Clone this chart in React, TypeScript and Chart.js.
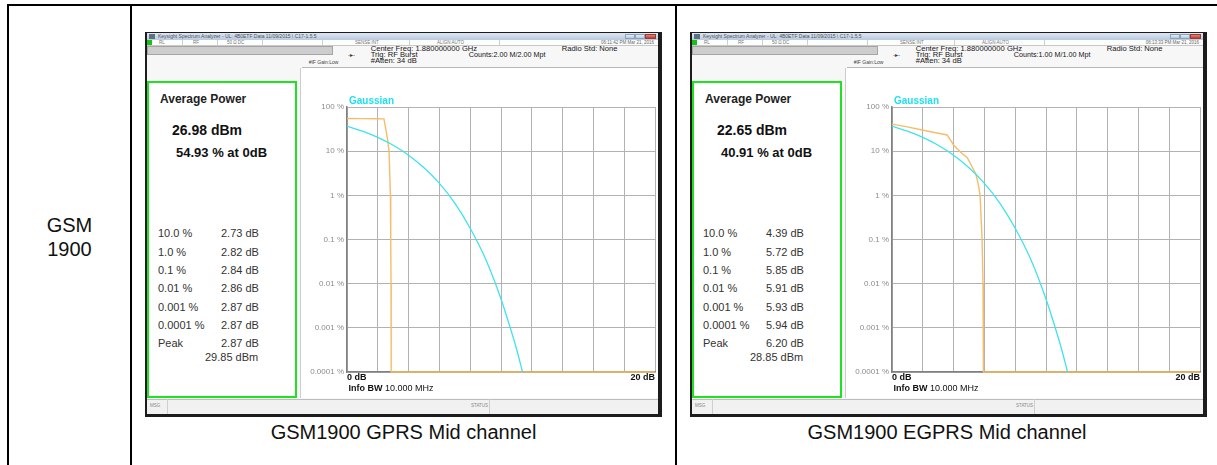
import React, { useEffect, useRef } from 'react';
import { Chart, registerables } from 'chart.js';
Chart.register(...registerables);

const FONT = '"Liberation Sans", Arial, Helvetica, sans-serif';

// axis ticks
const yTickValues = [100, 10, 1, 0.1, 0.01, 0.001, 0.0001];
const yTickLabels = ['100 %', '10 %', '1 %', '0.1 %', '0.01 %', '0.001 %', '0.0001 %'];
const xTickLabels = ['0 dB', '20 dB'];

// CCDF probability levels in the statistics panel
const ccdfLevels = ['10.0 %', '1.0 %', '0.1 %', '0.01 %', '0.001 %', '0.0001 %'];

// Gaussian reference trace
const gaussianDb = [0, 1, 2, 3, 4, 5, 6, 7, 8, 9, 10, 10.5, 11, 11.4];
const gaussianPct = [36.8, 28.4, 20.5, 13.6, 8.1, 4.2, 1.87, 0.67, 0.18, 0.036, 0.0045, 0.0013, 0.00034, 0.0001];

// GPRS measured trace
const gprsDb = [0, 1, 2, 2.4, 2.64, 2.73, 2.82, 2.84, 2.86, 2.87, 2.87, 20];
const gprsPct = [54.93, 54.6, 54.3, 54, 18, 10, 1, 0.1, 0.01, 0.001, 0.0001, 0.0001];

// EGPRS measured trace
const egprsDb = [0, 1, 1.8, 3, 3.58, 4.0, 4.39, 4.9, 5.45, 5.6, 5.72, 5.85, 5.91, 5.93, 5.94, 20];
const egprsPct = [40.91, 35.4, 31, 25.5, 23.3, 13.8, 10, 7, 3, 1.8, 1, 0.1, 0.01, 0.001, 0.0001, 0.0001];

// statistics values
const gprsStats = ['2.73 dB', '2.82 dB', '2.84 dB', '2.86 dB', '2.87 dB', '2.87 dB'];
const egprsStats = ['4.39 dB', '5.72 dB', '5.85 dB', '5.91 dB', '5.93 dB', '5.94 dB'];

function T(props: any) {
  const { x, cy, size = 10, bold = false, color = '#222', children, right, lh } = props;
  const L = lh || Math.round(size * 1.25);
  const st: any = {
    position: 'absolute',
    top: cy - L / 2,
    fontSize: size,
    lineHeight: L + 'px',
    fontWeight: bold ? 'bold' : 'normal',
    color,
    whiteSpace: 'nowrap',
    fontFamily: FONT,
  };
  if (right !== undefined) st.right = right; else st.left = x;
  return <div style={st}>{children}</div>;
}

function Box(props: any) {
  const { x, y, w, h, style } = props;
  return <div style={{ position: 'absolute', left: x, top: y, width: w, height: h, boxSizing: 'border-box', ...style }}>{props.children}</div>;
}

function CcdfChart(props: any) {
  const { db, pct } = props;
  const ref = useRef<HTMLCanvasElement | null>(null);
  useEffect(() => {
    if (!ref.current) return;
    const toPts = (xs: number[], ys: number[]) => xs.map((x, i) => ({ x, y: ys[i] }));
    const chart = new Chart(ref.current, {
      type: 'scatter',
      data: {
        datasets: [
          {
            data: toPts(gaussianDb, gaussianPct),
            borderColor: '#3fe3ea',
            borderWidth: 1.3,
            showLine: true,
            pointRadius: 0,
            cubicInterpolationMode: 'monotone',
          } as any,
          {
            data: toPts(db, pct),
            borderColor: '#f5bd6a',
            borderWidth: 1.4,
            showLine: true,
            pointRadius: 0,
            tension: 0,
            clip: 3,
          } as any,
        ],
      },
      options: {
        animation: false,
        responsive: false,
        maintainAspectRatio: false,
        layout: { padding: { top: 39, right: 4, left: 0, bottom: 0 } },
        plugins: { legend: { display: false }, tooltip: { enabled: false }, title: { display: false } },
        scales: {
          x: {
            type: 'linear',
            min: 0,
            max: 20,
            afterFit: (s: any) => { s.height = 26; },
            ticks: {
              stepSize: 2,
              autoSkip: false,
              maxRotation: 0,
              align: 'inner',
              padding: 0,
              color: '#111',
              font: { size: 9, weight: 'bold', family: FONT },
              callback: (v: any) => (v === 0 ? xTickLabels[0] : v === 20 ? xTickLabels[1] : ''),
            },
            grid: { color: '#b2b2b2', lineWidth: 1, drawTicks: false },
            border: { color: '#808080', width: 1.5 },
          },
          y: {
            type: 'logarithmic',
            min: 0.0001,
            max: 100,
            afterFit: (s: any) => { s.width = 46; },
            afterBuildTicks: (s: any) => { s.ticks = yTickValues.map((v) => ({ value: v })); },
            ticks: {
              autoSkip: false,
              padding: 3,
              color: '#8c8c8c',
              font: { size: 8, family: FONT },
              callback: (v: any) => {
                const i = yTickValues.indexOf(v);
                return i >= 0 ? yTickLabels[i] : '';
              },
            },
            grid: { color: '#b2b2b2', lineWidth: 1, drawTicks: false },
            border: { color: '#808080', width: 1.5 },
          },
        },
      } as any,
    });
    return () => chart.destroy();
  }, []);
  return <canvas ref={ref} width={358} height={330} style={{ position: 'absolute', left: 0, top: 0, width: 358, height: 330 }} />;
}

function Screen(props: any) {
  const { ox, time, counts, avg, pctAt0, stats, peakDb, peakDbm, db, pct } = props;
  // inner coordinates: page coordinate (s1) minus (147, 33)
  const X = (x: number) => x - 147;
  const Y = (y: number) => y - 33;
  const rowY = [233, 252, 270, 288, 307, 325, 343];
  const seps = [35, 70, 115, 175, 262, 352];
  return (
    <div style={{ position: 'absolute', left: ox, top: 32, width: 517, height: 385, boxSizing: 'border-box', borderStyle: 'solid', borderColor: '#1c1c1c', borderWidth: '1px 4px 3px 2px', background: '#f7f7f7', overflow: 'hidden' }}>
      {/* title bar */}
      <Box x={0} y={0} w={511} h={7} style={{ background: 'linear-gradient(#dde7f3, #b9cadf)' }} />
      <Box x={2} y={1} w={6} h={5} style={{ background: '#5f7083' }} />
      <T x={11} cy={3.5} size={5} color="#505050" lh={7}>Keysight Spectrum Analyzer - UL: 4B0ETF Data 11/09/2015 \ C17-1.5.5</T>
      <Box x={478} y={1} w={10} h={5} style={{ background: 'linear-gradient(#e4eef8, #b6c8de)', border: '1px solid #8ea2ba' }} />
      <Box x={488} y={1} w={10} h={5} style={{ background: 'linear-gradient(#e4eef8, #b6c8de)', border: '1px solid #8ea2ba' }} />
      <Box x={498} y={1} w={11} h={5} style={{ background: 'linear-gradient(#e8857a, #c63a2e)', border: '1px solid #9a3a30' }} />
      {/* status row */}
      <Box x={0} y={7} w={511} h={6} style={{ background: '#fdfdfd', borderBottom: '1px solid #c8c8c8' }} />
      <Box x={0} y={7} w={5} h={5} style={{ background: '#13c413' }} />
      {seps.map((s, i) => <Box key={i} x={s} y={7} w={1} h={5} style={{ background: '#cfcfcf' }} />)}
      <T x={12} cy={10} size={4.5} color="#777" lh={6}>RL</T>
      <T x={46} cy={10} size={4.5} color="#777" lh={6}>RF</T>
      <T x={80} cy={10} size={4.5} color="#777" lh={6}>50 Ω  DC</T>
      <T x={208} cy={10} size={4.5} color="#777" lh={6}>SENSE:INT</T>
      <T x={290} cy={10} size={4.5} color="#777" lh={6}>ALIGN AUTO</T>
      <T right={4} cy={10} size={4.5} color="#666" lh={6}>{time}</T>
      {/* input bar */}
      <Box x={0} y={Y(45.5)} w={186} h={9.5} style={{ background: '#cdcdcd', border: '1px solid #a5a5a5' }} />
      <T x={201} cy={Y(55)} size={6} color="#333">-▸-</T>
      <T x={X(370.7)} cy={Y(49)} size={7.6} color="#151515">Center Freq: 1.880000000 GHz</T>
      <T x={X(370.7)} cy={Y(54.8)} size={7.6} color="#151515">Trig: RF Burst</T>
      <T x={X(370.7)} cy={Y(61)} size={7.6} color="#151515">#Atten: 34 dB</T>
      <T x={X(308.7)} cy={Y(62)} size={5} color="#444">#IF Gain:Low</T>
      <T x={X(468.8)} cy={Y(54.4)} size={7.2} color="#151515">{counts}</T>
      <T x={X(561.8)} cy={Y(49)} size={7.6} color="#151515">Radio Std: None</T>
      <Box x={X(302)} y={Y(67)} w={358} h={1} style={{ background: '#b8b8b8' }} />
      {/* statistics panel */}
      <Box x={0} y={Y(81)} w={150} h={317} style={{ background: '#ffffff', border: '2px solid #1fe31f' }} />
      <T x={X(160)} cy={Y(99)} size={12} bold color="#222">Average Power</T>
      <T x={X(172)} cy={Y(130)} size={14} bold color="#111">{avg}</T>
      <T x={X(176)} cy={Y(153)} size={13} bold color="#111">{pctAt0}</T>
      {ccdfLevels.map((l, i) => <T key={'l' + i} x={X(158)} cy={Y(rowY[i])} size={11} color="#333">{l}</T>)}
      {stats.map((v: string, i: number) => <T key={'v' + i} x={X(221)} cy={Y(rowY[i])} size={11} color="#333">{v}</T>)}
      <T x={X(158)} cy={Y(rowY[6])} size={11} color="#333">Peak</T>
      <T x={X(221)} cy={Y(rowY[6])} size={11} color="#333">{peakDb}</T>
      <T x={X(205)} cy={Y(357)} size={11} color="#333">{peakDbm}</T>
      {/* plot panel */}
      <Box x={X(300)} y={Y(68)} w={358} h={330} style={{ background: '#ffffff', borderLeft: '1px solid #cccccc' }}>
        <CcdfChart db={db} pct={pct} />
        <T x={48} cy={32} size={10} bold color="#1fe0ee">Gaussian</T>
        <T x={47.5} cy={320} size={9} color="#111"><b>Info BW</b> 10.000 MHz</T>
      </Box>
      {/* bottom status bar */}
      <Box x={0} y={Y(399)} w={511} h={15} style={{ background: '#f1f1f1', borderTop: '1px solid #bdbdbd' }} />
      <Box x={20} y={Y(399)} w={1} h={15} style={{ background: '#cfcfcf' }} />
      <Box x={342} y={Y(399)} w={1} h={15} style={{ background: '#cfcfcf' }} />
      <T x={3} cy={Y(406)} size={4.5} color="#888" lh={6}>MSG</T>
      <T x={324} cy={Y(406)} size={4.5} color="#888" lh={6}>STATUS</T>
    </div>
  );
}

export default function App() {
  const line = (x: number, y: number, w: number, h: number) => <div style={{ position: 'absolute', left: x, top: y, width: w, height: h, background: '#000' }} />;
  return (
    <div style={{ position: 'fixed', left: 0, top: 0, width: 1217, height: 465, background: '#fff', overflow: 'hidden', fontFamily: FONT }}>
      {line(7, 4, 1212, 2)}
      {line(7, 4, 2, 470)}
      {line(130, 4, 2, 470)}
      {line(675, 4, 2, 470)}
      <div style={{ position: 'absolute', left: 9, top: 213, width: 121, textAlign: 'center', fontSize: 20, lineHeight: '24px', color: '#111', fontFamily: FONT }}>
        GSM<br />1900
      </div>
      <Screen ox={145} time="06:11:42 PM Mar 21, 2016" counts="Counts:2.00 M/2.00 Mpt" avg="26.98 dBm" pctAt0="54.93 % at 0dB" stats={gprsStats} peakDb="2.87 dB" peakDbm="29.85 dBm" db={gprsDb} pct={gprsPct} />
      <Screen ox={690} time="06:13:33 PM Mar 21, 2016" counts="Counts:1.00 M/1.00 Mpt" avg="22.65 dBm" pctAt0="40.91 % at 0dB" stats={egprsStats} peakDb="6.20 dB" peakDbm="28.85 dBm" db={egprsDb} pct={egprsPct} />
      <div style={{ position: 'absolute', left: 132, top: 420, width: 543, textAlign: 'center', fontSize: 20, lineHeight: '25px', color: '#111', fontFamily: FONT }}>GSM1900 GPRS Mid channel</div>
      <div style={{ position: 'absolute', left: 677, top: 420, width: 540, textAlign: 'center', fontSize: 20, lineHeight: '25px', color: '#111', fontFamily: FONT }}>GSM1900 EGPRS Mid channel</div>
    </div>
  );
}
